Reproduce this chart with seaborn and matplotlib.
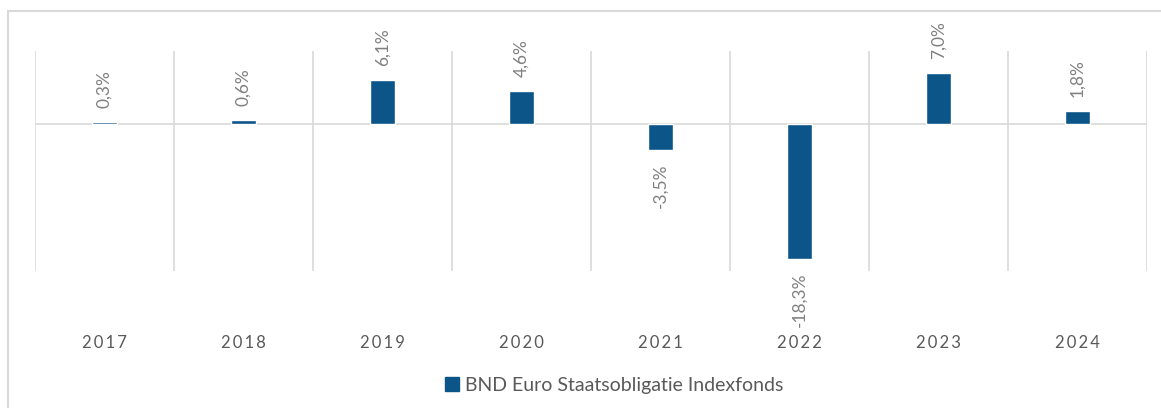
import matplotlib
matplotlib.use("Agg")
import matplotlib.pyplot as plt
from matplotlib.patches import Patch, Rectangle
import seaborn as sns
import pandas as pd

years = ["2017", "2018", "2019", "2020", "2021", "2022", "2023", "2024"]
returns = [0.3, 0.6, 6.1, 4.6, -3.5, -18.3, 7.0, 1.8]
value_labels = ["0,3%", "0,6%", "6,1%", "4,6%", "-3,5%", "-18,3%", "7,0%", "1,8%"]
series_name = "BND Euro Staatsobligatie Indexfonds"

BAR = "#0B5588"
GRID = "#D9D9D9"
LABEL = "#808080"
TEXT = "#595959"

sns.set_theme(style="white")
plt.rcParams["font.family"] = ["Lato", "DejaVu Sans"]

df = pd.DataFrame({"year": years, "ret": returns})

fig = plt.figure(figsize=(11.61, 4.08), dpi=100)
ax = fig.add_axes([35 / 1161, 1 - 271 / 408, (1147 - 35) / 1161, (271 - 51) / 408])

sns.barplot(data=df, x="year", y="ret", color=BAR, width=0.18, ax=ax,
            saturation=1, zorder=3)

ax.set_xlim(-0.5, len(years) - 0.5)
ax.set_ylim(-20, 10)

# category separators and zero line
for b in range(len(years) + 1):
    ax.axvline(b - 0.5, color=GRID, lw=1.2, zorder=1)
ax.axhline(0, color=GRID, lw=1.2, zorder=2)

for s in ax.spines.values():
    s.set_visible(False)
ax.set_yticks([])
ax.set_xlabel("")
ax.set_ylabel("")
ax.tick_params(axis="x", length=0, pad=0)
ax.set_xticks(range(len(years)))
ax.set_xticklabels([])

# year labels below the plot area
for i, y in enumerate(years):
    ax.annotate("\u2009".join(y), xy=(i, -20), xycoords="data",
                xytext=(0, -52), textcoords="offset points",
                ha="center", va="center", fontsize=12, color=TEXT)

# rotated value labels
for i, (v, lab) in enumerate(zip(returns, value_labels)):
    if v >= 0:
        ax.annotate(lab, xy=(i, v), xytext=(0, 10), textcoords="offset points",
                    ha="center", va="bottom", rotation=90, fontsize=12.5,
                    color=LABEL)
    else:
        ax.annotate(lab, xy=(i, v), xytext=(0, -10), textcoords="offset points",
                    ha="center", va="top", rotation=90, fontsize=12.5,
                    color=LABEL)

# outer frame
fig.patches.append(Rectangle((8 / 1161, -0.1), 1.2, 1.1 - 11 / 408,
                             transform=fig.transFigure, fill=False,
                             edgecolor=GRID, lw=1.5))

fig.legend(handles=[Patch(facecolor=BAR, edgecolor=BAR, label=series_name)],
           loc="center", bbox_to_anchor=(0.529, 1 - 385 / 408),
           frameon=False, fontsize=14, handlelength=0.75, handleheight=0.75,
           handletextpad=0.3, labelcolor=TEXT)

fig.savefig("out.png", dpi=100)
